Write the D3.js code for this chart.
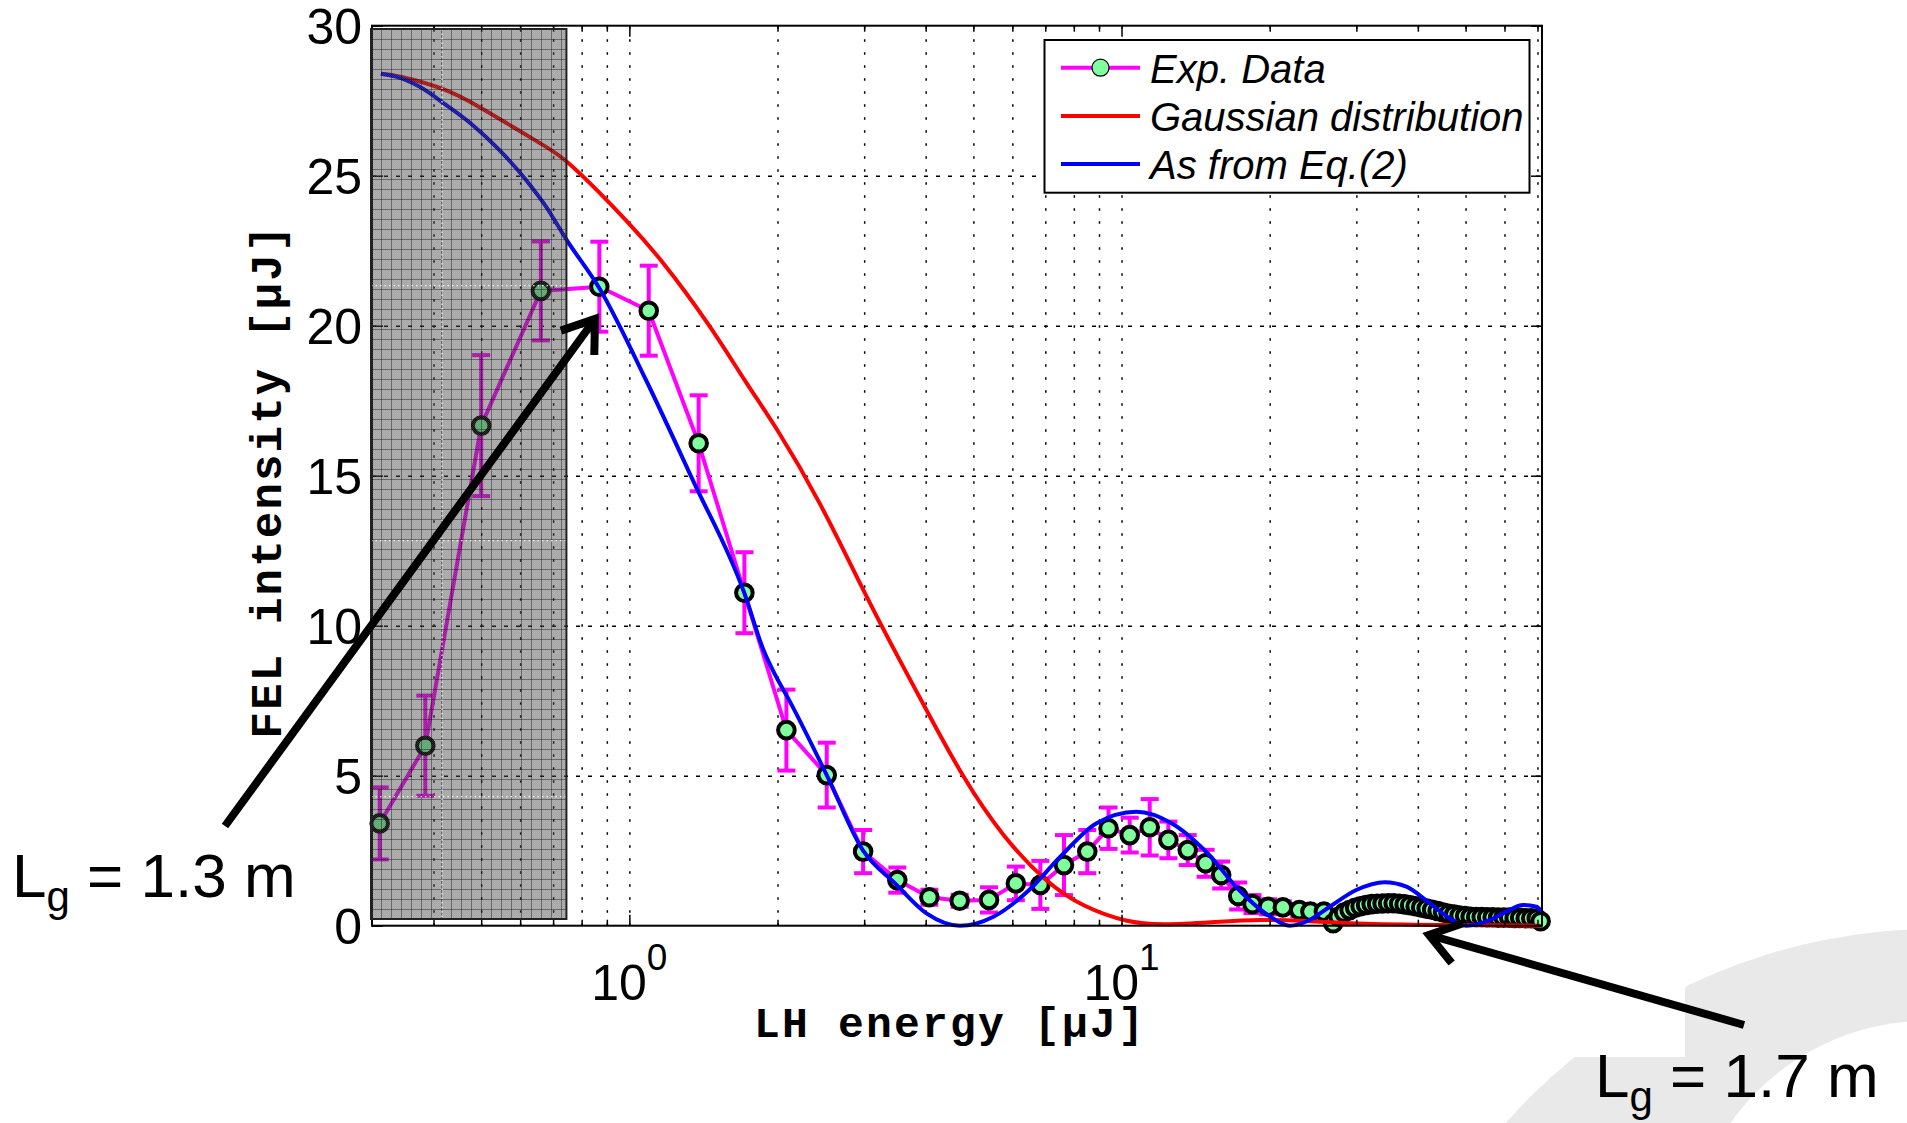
<!DOCTYPE html>
<html><head><meta charset="utf-8">
<script src="https://cdn.jsdelivr.net/npm/d3@7"></script>
<style>body{margin:0;background:#fff;} svg{display:block;} text{white-space:pre;}</style>
</head><body>
<svg id="chart" width="1907" height="1123"></svg>
<script>
// ---------- DATA ----------
const expX = [0.311,0.385,0.50,0.661,0.869,1.095,1.383,1.713,2.085,2.518,2.985,3.503,4.07,4.69,5.38,6.10,6.84,7.64,8.52,9.41,10.39,11.41,12.45,13.63,14.82,15.94,17.26,18.45,19.85,21.27,22.97,24.2,25.77,26.92,
  27.61,28.33,29.07,29.83,30.60,31.40,32.22,33.06,33.92,34.81,35.72,36.65,37.60,38.58,39.59,40.62,41.68,42.77,43.88,45.03,46.20,47.41,48.64,49.91,51.21,52.55,53.92,55.33,56.77,58.25,59.77,61.33,62.93,64.57,66.26,67.99,69.76,71.05];
const expY = [3.41,6.0,16.67,21.16,21.3,20.5,16.08,11.1,6.52,5.02,2.47,1.52,0.95,0.83,0.86,1.41,1.36,2.02,2.47,3.25,3.02,3.28,2.86,2.52,2.08,1.69,0.99,0.72,0.63,0.61,0.52,0.47,0.47,0.08,
  0.30,0.44,0.52,0.60,0.65,0.69,0.72,0.73,0.74,0.75,0.75,0.73,0.71,0.68,0.65,0.61,0.57,0.53,0.49,0.44,0.40,0.37,0.34,0.32,0.30,0.29,0.29,0.28,0.28,0.27,0.27,0.27,0.26,0.26,0.25,0.25,0.24,0.15];
const expErr = [1.2,1.67,2.35,1.65,1.5,1.5,1.6,1.35,1.35,1.08,0.72,0.42,0.25,0.2,0.42,0.56,0.8,1.0,0.72,0.69,0.58,0.94,0.61,0.5,0.45,0.45,0.45,0.3,0.25,0.2,0.2,0.15,0.15,0.1,
  0.1,0.1,0.1,0.1,0.1,0.1,0.1,0.1,0.1,0.1,0.1,0.1,0.1,0.1,0.1,0.1,0.1,0.1,0.1,0.1,0.1,0.1,0.1,0.1,0.1,0.1,0.1,0.1,0.1,0.1,0.1,0.1,0.1,0.1,0.1,0.1,0.1,0.1];

const gaussX = [0.3128,0.3356,0.424,0.4955,0.5791,0.6772,0.741,0.8692,0.9847,1.151,1.466,1.727,1.987,2.433,3.004,3.538,4.015,4.746,5.728,7.06,8.34,10.28,12.15,15.6,19.24,23.71,29.2,44.3,71.0];
const gaussY = [28.4,28.36,27.91,27.3,26.63,25.97,25.56,24.45,23.52,22.3,19.97,18.08,16.63,14.19,11.08,8.86,7.19,4.97,2.97,1.41,0.63,0.1,0.02,0.13,0.21,0.17,0.06,0.02,0.0];

const eqX = [0.3128,0.3356,0.3743,0.424,0.4802,0.5441,0.6166,0.6772,0.7456,0.8692,1.081,1.345,1.713,1.873,1.987,2.105,2.518,2.985,3.468,4.015,4.694,5.494,6.49,7.51,8.88,10.72,12.66,14.97,17.33,20.06,21.95,24.11,26.48,29.99,34.24,37.91,42.27,46.42,50.19,55.98,60.52,65.41,69.66,71.4];
const eqY = [28.4,28.3,27.97,27.36,26.69,25.86,24.86,23.97,22.86,21.25,18.19,14.86,11.08,9.19,8.3,7.56,5.02,2.5,1.41,0.41,0.0,0.3,1.19,2.3,3.41,3.8,3.41,2.41,1.19,0.3,0.0,0.19,0.63,1.19,1.45,1.3,0.75,0.25,0.0,0.19,0.47,0.69,0.63,0.47];

const xDomain = [0.3, 71.5];
const yDomain = [0, 30];
const yTicks = [0,5,10,15,20,25,30];
const xMajorTicks = [1,10];
const xMajorLabels = [["10","0"],["10","1"]];
const xMinorTicks = [0.4,0.5,0.6,0.7,0.8,0.9,2,3,4,5,6,7,8,9,20,30,40,50,60,70];
const legendLabels = ["Exp. Data","Gaussian distribution","As from Eq.(2)"];
const xLabel = "LH energy [\u03bcJ]";
const yLabel = "FEL intensity [\u03bcJ]";
const shadeRange = [0.3, 0.745];
const annot1 = {main:"L", sub:"g", rest:" = 1.3 m"};
const annot2 = {main:"L", sub:"g", rest:" = 1.7 m"};

// ---------- LAYOUT ----------
const L = 372, R = 1542, T = 25.7, B = 925.7;
const svg = d3.select("#chart");
const x = d3.scaleLog().domain(xDomain).range([L, R]);
const y = d3.scaleLinear().domain(yDomain).range([B, T]);
const FONT = "'Liberation Sans', Arial, Helvetica, sans-serif";
const MONO = "'Liberation Mono', 'DejaVu Sans Mono', monospace";
const MAG = "#ff00ff", GREEN = "#80ff9f";

const defs = svg.append("defs");
const mask = defs.append("mask").attr("id","bgmask");
mask.append("rect").attr("width",1907).attr("height",1123).attr("fill","#fff");
mask.append("circle").attr("cx",1927).attr("cy",1261).attr("r",240).attr("fill","#000");
mask.append("rect").attr("x",0).attr("y",0).attr("width",1685).attr("height",1057).attr("fill","#000");
svg.append("circle").attr("cx",1936).attr("cy",1503).attr("r",574).attr("fill","#e9e9e9").attr("mask","url(#bgmask)");

const pf = defs.append("pattern").attr("id","fine").attr("width",10).attr("height",10)
  .attr("patternUnits","userSpaceOnUse").attr("x",371).attr("y",29);
pf.append("path").attr("d","M0 0.5H10M0.5 0V10").attr("stroke","rgba(0,0,0,0.38)").attr("stroke-width",1).attr("fill","none");
const pc = defs.append("pattern").attr("id","chk").attr("width",2).attr("height",2).attr("patternUnits","userSpaceOnUse");
pc.append("rect").attr("width",1).attr("height",1).attr("fill","rgba(255,255,255,0.13)");
pc.append("rect").attr("x",1).attr("y",1).attr("width",1).attr("height",1).attr("fill","rgba(255,255,255,0.13)");

// ---------- GRID ----------
const gridV = svg.append("g").attr("transform",`translate(0,${B})`)
  .call(d3.axisBottom(x).tickValues(xMinorTicks.concat(xMajorTicks)).tickSize(-(B-T)).tickFormat(""));
gridV.select(".domain").remove();
gridV.selectAll("line").attr("stroke","#000").attr("stroke-width",1.5).attr("stroke-dasharray","2.5,10.5");
const gridH = svg.append("g").attr("transform",`translate(${L},0)`)
  .call(d3.axisLeft(y).tickValues(yTicks.slice(1,-1)).tickSize(-(R-L)).tickFormat(""));
gridH.select(".domain").remove();
gridH.selectAll("line").attr("stroke","#000").attr("stroke-width",1.5).attr("stroke-dasharray","4,8");

// ---------- EXP DATA ----------
const exp = expX.map((v,i)=>({x:v,y:expY[i],e:expErr[i]}));
svg.append("path").datum(exp)
  .attr("d", d3.line().x(d=>x(d.x)).y(d=>y(d.y)))
  .attr("fill","none").attr("stroke",MAG).attr("stroke-width",4).attr("stroke-linejoin","round");
const eb = svg.append("g").attr("stroke",MAG).attr("stroke-width",4);
exp.forEach(d=>{
  const cx = x(d.x), y1 = y(d.y+d.e), y2 = y(d.y-d.e);
  eb.append("line").attr("x1",cx).attr("x2",cx).attr("y1",y1).attr("y2",y2);
  eb.append("line").attr("x1",cx-9).attr("x2",cx+9).attr("y1",y1).attr("y2",y1);
  eb.append("line").attr("x1",cx-9).attr("x2",cx+9).attr("y1",y2).attr("y2",y2);
});
svg.append("g").selectAll("circle").data(exp).join("circle")
  .attr("cx",d=>x(d.x)).attr("cy",d=>y(d.y)).attr("r",8.3)
  .attr("fill",GREEN).attr("stroke","#000").attr("stroke-width",4);

// ---------- CURVES ----------
const redGen = d3.line().x(d=>x(d[0])).y(d=>y(d[1])).curve(d3.curveBasis);
const blueGen = d3.line().x(d=>x(d[0])).y(d=>y(d[1])).curve(d3.curveMonotoneX);
svg.append("path").datum(gaussX.map((v,i)=>[v,gaussY[i]])).attr("d",redGen)
  .attr("fill","none").attr("stroke","#ff0000").attr("stroke-width",4);
svg.append("path").datum(eqX.map((v,i)=>[v,eqY[i]])).attr("d",blueGen)
  .attr("fill","none").attr("stroke","#0000ff").attr("stroke-width",4);

// ---------- AXES ----------
function styleAxis(g){ g.select(".domain").remove(); g.selectAll("line").attr("stroke","#000").attr("stroke-width",1.5); }
svg.append("g").attr("transform",`translate(0,${B})`).call(d3.axisBottom(x).tickValues(xMinorTicks).tickSize(-6).tickFormat("")).call(styleAxis);
svg.append("g").attr("transform",`translate(0,${T})`).call(d3.axisTop(x).tickValues(xMinorTicks).tickSize(-6).tickFormat("")).call(styleAxis);
svg.append("g").attr("transform",`translate(0,${B})`).call(d3.axisBottom(x).tickValues(xMajorTicks).tickSize(-11).tickFormat("")).call(styleAxis);
svg.append("g").attr("transform",`translate(0,${T})`).call(d3.axisTop(x).tickValues(xMajorTicks).tickSize(-11).tickFormat("")).call(styleAxis);
const yAx = svg.append("g").attr("transform",`translate(${L},0)`)
  .call(d3.axisLeft(y).tickValues(yTicks).tickSize(-11).tickPadding(10).tickFormat(d3.format("d")));
yAx.select(".domain").remove();
yAx.selectAll("line").attr("stroke","#000").attr("stroke-width",1.5);
yAx.selectAll("text").attr("font-family",FONT).attr("font-size",50).attr("fill","#000").attr("dy","0.36em");
svg.append("g").attr("transform",`translate(${R},0)`).call(d3.axisRight(y).tickValues(yTicks).tickSize(-11).tickFormat("")).call(styleAxis);

xMajorTicks.forEach((v,i)=>{
  const t = svg.append("text").attr("x",x(v)).attr("y",1000).attr("text-anchor","middle")
    .attr("font-family",FONT).attr("font-size",50).attr("fill","#000");
  t.append("tspan").text(xMajorLabels[i][0]);
  t.append("tspan").attr("font-size",37).attr("dy",-30).text(xMajorLabels[i][1]);
});

svg.append("rect").attr("x",L).attr("y",T).attr("width",R-L).attr("height",B-T)
  .attr("fill","none").attr("stroke","#000").attr("stroke-width",2);

// ---------- GRAY OVERLAY ----------
const ox0 = x(shadeRange[0]) - 1, ox1 = x(shadeRange[1]);
const ov = svg.append("g");
ov.append("rect").attr("x",ox0).attr("y",29).attr("width",ox1-ox0).attr("height",890)
  .attr("fill","rgb(40,40,40)").attr("fill-opacity",0.42);
ov.append("rect").attr("x",ox0).attr("y",29).attr("width",ox1-ox0).attr("height",890).attr("fill","url(#chk)");
ov.append("rect").attr("x",ox0).attr("y",29).attr("width",ox1-ox0).attr("height",890).attr("fill","url(#fine)");
const wd = ov.append("g").attr("stroke","#fff").attr("stroke-width",1.3).attr("stroke-dasharray","1.5,3").attr("opacity",0.85);
wd.append("line").attr("x1",442).attr("x2",442).attr("y1",29).attr("y2",919);
[285.7,540.7,796.7].forEach(yy=>wd.append("line").attr("x1",ox0).attr("x2",ox1).attr("y1",yy).attr("y2",yy));
ov.append("rect").attr("x",ox0).attr("y",29).attr("width",ox1-ox0).attr("height",890)
  .attr("fill","none").attr("stroke","#222").attr("stroke-width",2);

// ---------- AXIS LABELS ----------
svg.append("text").attr("x",950).attr("y",1037).attr("text-anchor","middle")
  .attr("font-family",MONO).attr("font-weight","bold").attr("font-size",43).attr("letter-spacing",2.2)
  .attr("fill","#000").text(xLabel);
svg.append("text").attr("transform","translate(281,481) rotate(-90)").attr("text-anchor","middle")
  .attr("font-family",MONO).attr("font-weight","bold").attr("font-size",44).attr("letter-spacing",2.2)
  .attr("fill","#000").text(yLabel);

// ---------- LEGEND ----------
const lg = svg.append("g");
lg.append("rect").attr("x",1044.5).attr("y",40).attr("width",485).attr("height",152.7)
  .attr("fill","#fff").attr("stroke","#000").attr("stroke-width",2);
const rowsY = [67.7,116,164];
const legColors = [MAG,"#ff0000","#0000ff"];
legendLabels.forEach((lab,i)=>{
  lg.append("line").attr("x1",1061).attr("x2",1140).attr("y1",rowsY[i]).attr("y2",rowsY[i])
    .attr("stroke",legColors[i]).attr("stroke-width",4);
  if(i===0) lg.append("circle").attr("cx",1100.5).attr("cy",rowsY[i]).attr("r",8.5)
    .attr("fill",GREEN).attr("stroke","#000").attr("stroke-width",1.2);
  lg.append("text").attr("x",1150).attr("y",rowsY[i]+15).attr("font-family",FONT)
    .attr("font-style","italic").attr("font-size",40).attr("fill","#000").text(lab);
});

// ---------- ANNOTATIONS ----------
function arrow(x1,y1,x2,y2){
  const g = svg.append("g").attr("stroke","#000").attr("stroke-width",8).attr("fill","none");
  g.append("line").attr("x1",x1).attr("y1",y1).attr("x2",x2).attr("y2",y2);
  const dx = x1-x2, dy = y1-y2, len = Math.hypot(dx,dy), ux = dx/len, uy = dy/len;
  const a = 35*Math.PI/180, bl = 36;
  const b1 = [x2 + bl*(ux*Math.cos(a)-uy*Math.sin(a)), y2 + bl*(ux*Math.sin(a)+uy*Math.cos(a))];
  const b2 = [x2 + bl*(ux*Math.cos(-a)-uy*Math.sin(-a)), y2 + bl*(ux*Math.sin(-a)+uy*Math.cos(-a))];
  g.append("path").attr("d",`M${b1[0]},${b1[1]}L${x2},${y2}L${b2[0]},${b2[1]}`).attr("stroke-linejoin","miter");
}
arrow(225,826,595,319);
arrow(1744,1025,1429,935);

function lab(xp,yp,a){
  const t = svg.append("text").attr("x",xp).attr("y",yp).attr("font-family",FONT).attr("font-size",62).attr("fill","#000");
  t.append("tspan").text(a.main);
  t.append("tspan").attr("font-size",42).attr("dy",14).text(a.sub);
  t.append("tspan").attr("dy",-14).text(a.rest);
}
lab(12,897,annot1);
lab(1595,1097,annot2);
</script>
</body></html>
